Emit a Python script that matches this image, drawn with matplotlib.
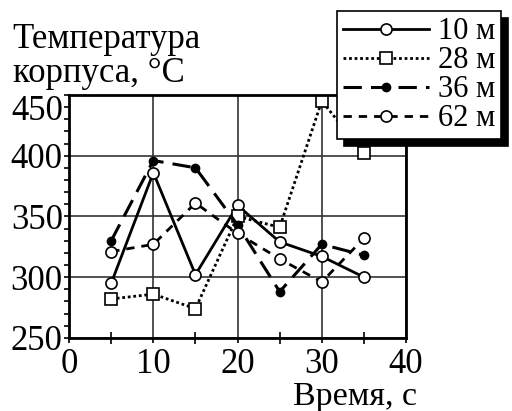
import numpy as np
import matplotlib
matplotlib.use("Agg")
import matplotlib.pyplot as plt
import matplotlib.transforms as mtransforms
from matplotlib.ticker import MultipleLocator

plt.rcParams['font.family'] = ['Liberation Serif', 'DejaVu Serif']

vremya = [5, 10, 15, 20, 25, 30, 35]
t10 = [295, 386, 302, 359, 329, 317, 300]
t28 = [282, 286, 274, 350, 341, 445, 402]
t36 = [330, 396, 390, 343, 288, 327, 318]
t62 = [321, 327, 361, 336, 315, 296, 332]
metki = ["10 м", "28 м", "36 м", "62 м"]

fig = plt.figure(figsize=(5.12, 4.11), dpi=100)
ax = fig.add_axes([0.135, 0.178, 0.658, 0.591])

ax.plot(vremya, t10, color="black", lw=2, marker="o", ms=8,
        mfc="white", mec="black", mew=1.2, label=metki[0])
ax.plot(vremya, t28, color="black", lw=2, ls=(0, (1, 1)), marker="s", ms=8,
        mfc="white", mec="black", mew=1.2, label=metki[1])
ax.plot(vremya, t36, color="black", lw=2.2, ls=(0, (6, 3)), marker="o", ms=6,
        mfc="black", mec="black", label=metki[2])
ax.plot(vremya, t62, color="black", lw=2, ls=(0, (3, 2.5)), marker="o", ms=8,
        mfc="white", mec="black", mew=1.2, label=metki[3])

ax.set_xlim(0, 40)
ax.set_ylim(250, 450)
ax.xaxis.set_major_locator(MultipleLocator(10))
ax.xaxis.set_minor_locator(MultipleLocator(5))
ax.yaxis.set_major_locator(MultipleLocator(50))
ax.yaxis.set_minor_locator(MultipleLocator(10))
ax.grid(True, which="major", color="#333333", lw=1.2)
ax.tick_params(which="both", labelsize=25, color="black", width=1.2)
ax.tick_params(axis="y", which="both", direction="out", length=3.5, pad=1)
ax.tick_params(axis="x", which="major", direction="out", length=3.5, pad=4)
ax.tick_params(axis="x", which="minor", direction="inout", length=9)
for s in ax.spines.values():
    s.set_linewidth(2)

# верхнюю метку 450 чуть опускаем, чтобы не налезала на подпись оси
fig.canvas.draw()
sdvig = mtransforms.ScaledTranslation(0, -9 / 72, fig.dpi_scale_trans)
for lab in ax.get_yticklabels():
    if lab.get_text() == "450":
        lab.set_transform(lab.get_transform() + sdvig)

fig.text(0.025, 0.80, "Температура\nкорпуса, °C", fontsize=25,
         ha="left", va="baseline", linespacing=1.05)
fig.text(0.815, 0.015, "Время, с", fontsize=24.5, ha="right", va="baseline")

leg = ax.legend(loc="upper left", bbox_to_anchor=(0.796, 1.345),
                fontsize=22, frameon=True, fancybox=False,
                shadow={"color": "black", "alpha": 1, "ox": 5, "oy": -5},
                handlelength=2.8, handletextpad=0.28, labelspacing=0.0,
                borderpad=0.2, borderaxespad=0)
leg.get_frame().set_edgecolor("black")
leg.get_frame().set_linewidth(1.2)

fig.savefig("out.png", dpi=100)
